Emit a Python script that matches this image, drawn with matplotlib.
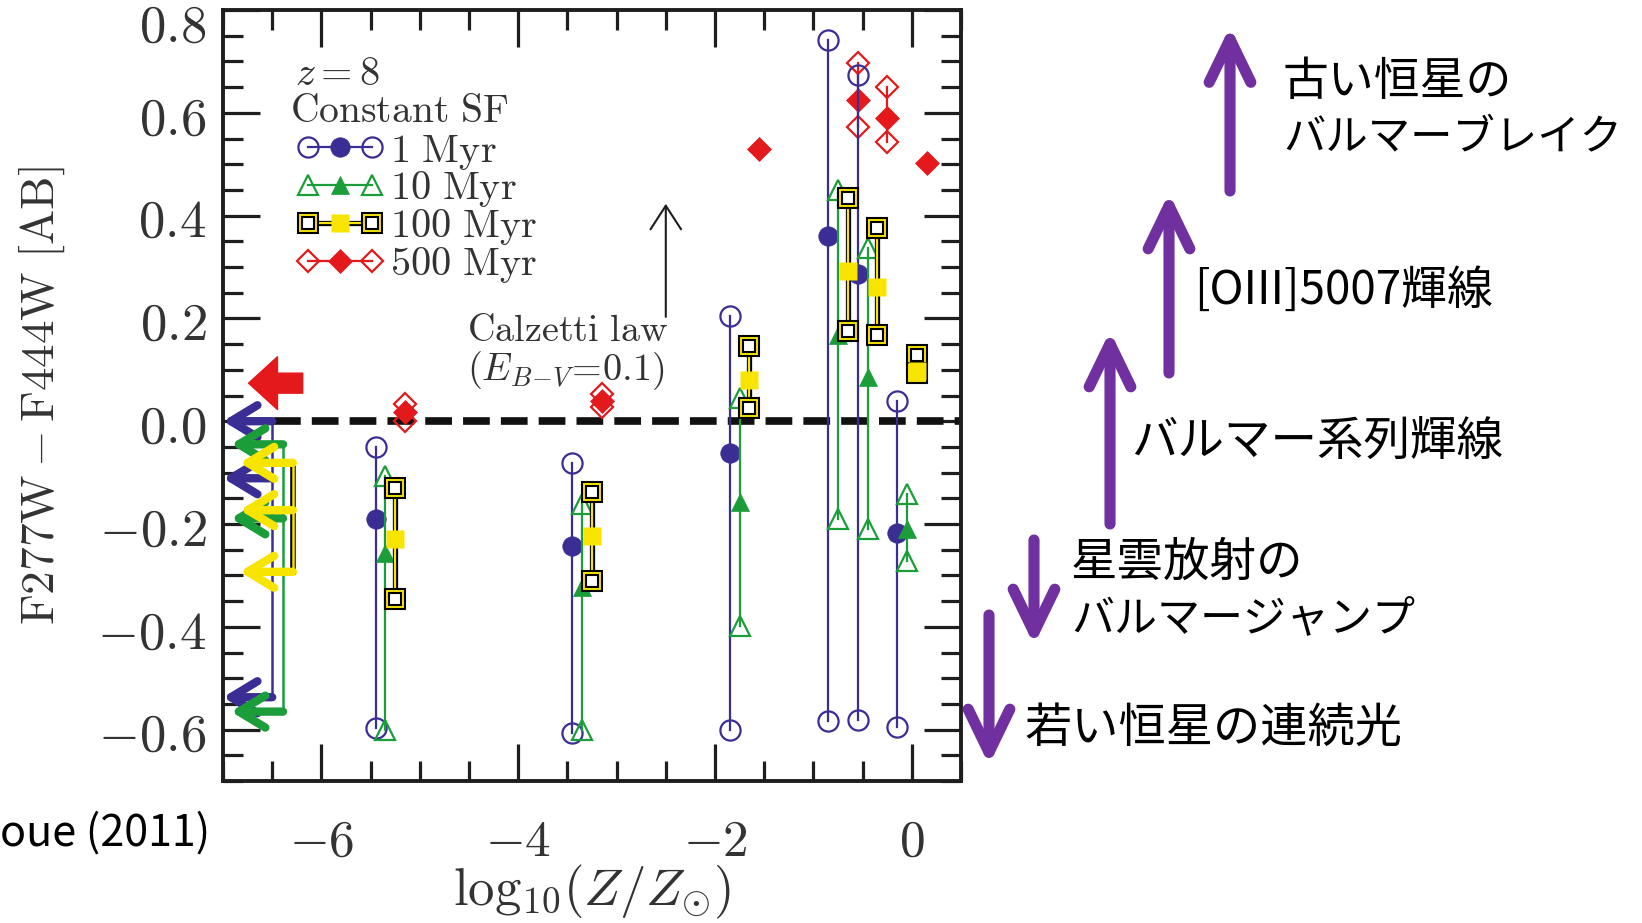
import numpy as np
import matplotlib
matplotlib.use("Agg")
import matplotlib.pyplot as plt
import matplotlib.patheffects as pe
from matplotlib.lines import Line2D
from matplotlib.legend_handler import HandlerBase
from matplotlib.ticker import FixedLocator, MultipleLocator, FuncFormatter
from matplotlib.transforms import ScaledTranslation

plt.rcParams['font.family'] = ['Noto Sans CJK JP', 'DejaVu Sans']
plt.rcParams['mathtext.fontset'] = 'cm'

# log10(Z/Zsun) of the model grid (Z = 0 is shown as arrows on the left edge)
logZ = [-5.3, -3.3, -1.7, -0.7, -0.4, 0.0]
ageLabels = ['1 Myr', '10 Myr', '100 Myr', '500 Myr']

# F277W-F444W colour: open point / filled point / open point per age
myr1Top = [-0.051, -0.081, 0.205, 0.741, 0.673, 0.040]
myr1Mid = [-0.191, -0.243, -0.062, 0.360, 0.287, -0.218]
myr1Bot = [-0.597, -0.607, -0.600, -0.584, -0.581, -0.594]

myr10Top = [-0.107, -0.162, 0.045, 0.449, 0.337, -0.142]
myr10Mid = [-0.257, -0.322, -0.157, 0.168, 0.086, -0.209]
myr10Bot = [-0.600, -0.600, -0.399, -0.190, -0.209, -0.272]

myr100Top = [-0.129, -0.137, 0.147, 0.434, 0.375, 0.129]
myr100Mid = [-0.229, -0.223, 0.080, 0.292, 0.262, 0.098]
myr100Bot = [-0.346, -0.311, 0.025, 0.175, 0.168, 0.094]

myr500Top = [0.033, 0.053, np.nan, 0.696, 0.651, np.nan]
myr500Mid = [0.017, 0.040, 0.529, 0.624, 0.589, 0.502]
myr500Bot = [0.000, 0.027, np.nan, 0.573, 0.544, np.nan]

# Z = 0 models (1, 10, 100 Myr) and the single 500 Myr value
zeroTop = [0.000, -0.045, -0.081]
zeroMid = [-0.111, -0.189, -0.173]
zeroBot = [-0.537, -0.565, -0.293]
zero500 = 0.074

yTicks = [-0.6, -0.4, -0.2, 0.0, 0.2, 0.4, 0.6, 0.8]
xTicks = [-6, -4, -2, 0]

blue = '#3a2d94'
green = '#1b9d3a'
yellow = '#f7e400'
red = '#e4191c'
purple = '#7030a0'
grey = '#333333'
ink = '#1e1e1e'

styles = [
    dict(color=blue, marker='o', ms=14.5, fillMs=14, dx=-0.15, z=4),
    dict(color=green, marker='^', ms=15, fillMs=13.5, dx=-0.05, z=5),
    dict(color=yellow, marker='s', ms=15, fillMs=12.5, dx=0.05, z=6, boxed=True),
    dict(color=red, marker='D', ms=11.5, fillMs=12.5, dx=0.15, z=3),
]


def makeArtists(xs, ys, st):
    z = st['z']
    ends = ([xs[0], xs[2]], [ys[0], ys[2]])
    line = Line2D(*ends, color=st['color'], lw=1.6, zorder=z)
    arts = [line]
    if st.get('boxed'):
        line.set_path_effects([pe.Stroke(linewidth=3.8, foreground='k'), pe.Normal()])
        arts.append(Line2D(*ends, ls='none', marker='s', ms=st['ms'], mfc=yellow,
                           mec='k', mew=1.5, zorder=z))
        arts.append(Line2D(*ends, ls='none', marker='s', ms=8, mfc='white',
                           mec='k', mew=1.5, zorder=z))
        arts.append(Line2D([xs[1]], [ys[1]], ls='none', marker='s', ms=st['fillMs'],
                           mfc=yellow, mec='none', zorder=z))
    else:
        arts.append(Line2D(*ends, ls='none', marker=st['marker'], ms=st['ms'], mfc='none',
                           mec=st['color'], mew=1.6, zorder=z))
        arts.append(Line2D([xs[1]], [ys[1]], ls='none', marker=st['marker'], ms=st['fillMs'],
                           mfc=st['color'], mec=st['color'], mew=0.5, zorder=z))
    return arts


class ModelHandler(HandlerBase):
    def __init__(self, st):
        super().__init__()
        self.st = st

    def create_artists(self, legend, orig_handle, xdescent, ydescent, width, height, fontsize, trans):
        y = (height - ydescent) / 2
        xs = [-xdescent, -xdescent + width / 2, -xdescent + width]
        arts = makeArtists(xs, [y, y, y], self.st)
        for a in arts:
            a.set_transform(trans)
        return arts


W, H = 1642, 923
fig = plt.figure(figsize=(W / 100, H / 100), dpi=100)
ax = fig.add_axes([223 / W, 1 - 781 / H, (961 - 223) / W, (781 - 10) / H])
ax.set_xlim(-7.0, 0.5)
ax.set_ylim(-0.7, 0.8)

# zero-colour reference line
lineStart = -6.48
ax.axhline(0, xmin=(lineStart + 7.0) / 7.5, xmax=1, color='#111111', lw=5.5,
           dashes=(3.5, 1.45), zorder=2)

series = [(myr1Top, myr1Mid, myr1Bot), (myr10Top, myr10Mid, myr10Bot),
          (myr100Top, myr100Mid, myr100Bot), (myr500Top, myr500Mid, myr500Bot)]
for (top, mid, bot), st in zip(series, styles):
    for x0, a, b, c in zip(logZ, top, mid, bot):
        x = x0 + st['dx']
        for art in makeArtists([x, x, x], [a, b, c], st):
            ax.add_line(art)

# Z = 0: arrows pointing off the left edge, joined by a bracket line
zeroStyle = [(blue, -6.50, -7.00), (green, -6.39, -6.92), (yellow, -6.29, -6.83)]
for i, (c, xb, xt) in enumerate(zeroStyle):
    br, = ax.plot([xb, xb], [zeroTop[i], zeroBot[i]], color=c, lw=1.8, zorder=7 + i)
    if c == yellow:
        br.set_path_effects([pe.Stroke(linewidth=4.0, foreground='k'), pe.Normal()])
    for y in (zeroTop[i], zeroMid[i], zeroBot[i]):
        ax.annotate('', xy=(xt, y), xytext=(xb, y),
                    arrowprops=dict(arrowstyle='->,head_length=1.9,head_width=1.15', lw=6,
                                    color=c, shrinkA=0, shrinkB=0, mutation_scale=10),
                    zorder=7 + i)
ax.annotate('', xy=(-6.74, zero500), xytext=(-6.19, zero500),
            arrowprops=dict(arrowstyle='simple,head_length=0.52,head_width=0.95,tail_width=0.36',
                            mutation_scale=40, fc=red, ec=red, shrinkA=0, shrinkB=0), zorder=10)

# dust vector
ax.annotate('', xy=(-2.5, 0.423), xytext=(-2.5, 0.203),
            arrowprops=dict(arrowstyle='->,head_length=1.7,head_width=1.1', lw=1.5,
                            color=ink, shrinkA=0, shrinkB=0))
ax.text(-4.52, 0.177, r'$\mathrm{Calzetti\ law}$', fontsize=27.5, color=grey, va='center')
ax.text(-4.52, 0.099, r'$(E_{B\!-\!V}\!=\!0.1)$', fontsize=27.5, color=grey, va='center')

# legend
ax.text(0.097, 0.918, r'$z=8$', transform=ax.transAxes, fontsize=29, color=grey, va='center')
ax.text(0.091, 0.869, r'$\mathrm{Constant\ SF}$', transform=ax.transAxes, fontsize=28.5,
        color=grey, va='center')
proxies = [Line2D([], []) for _ in styles]
labels = [r'$\mathrm{%s}$' % lab.replace(' ', r'\ ') for lab in ageLabels]
ax.legend(proxies, labels, handler_map={p: ModelHandler(st) for p, st in zip(proxies, styles)},
          loc='upper left', bbox_to_anchor=(0.115, 0.845), frameon=False, fontsize=29,
          handlelength=1.6, handletextpad=0.45, labelspacing=-0.1, borderpad=0,
          borderaxespad=0, labelcolor=grey)

# axes styling
ax.xaxis.set_major_locator(FixedLocator(xTicks))
ax.xaxis.set_minor_locator(MultipleLocator(0.5))
ax.yaxis.set_major_locator(FixedLocator(yTicks))
ax.yaxis.set_minor_locator(MultipleLocator(0.05))
ax.xaxis.set_major_formatter(FuncFormatter(lambda v, p: r'$%d$' % round(v)))
ax.yaxis.set_major_formatter(FuncFormatter(lambda v, p: r'$%.1f$' % v))
ax.tick_params(which='both', direction='in', top=True, right=True, width=2.3, color=ink)
ax.tick_params(which='major', length=26.5)
ax.tick_params(which='minor', length=14.5)
ax.tick_params(axis='y', labelsize=38, pad=12, labelcolor=grey)
ax.tick_params(axis='x', labelsize=37, pad=24, labelcolor=grey)
# the top label sits a little below its tick, as in the original figure
topLabel = ax.yaxis.get_major_ticks()[-1].label1
topLabel.set_transform(topLabel.get_transform() + ScaledTranslation(0, -0.10, fig.dpi_scale_trans))
for s in ax.spines.values():
    s.set_linewidth(2.8)
    s.set_color(ink)

ax.set_ylabel(r'$\mathrm{F277W-F444W\ [AB]}$', fontsize=34, color=grey, va='center')
ax.yaxis.set_label_coords(-0.245, 0.5)
ax.set_xlabel(r'$\mathrm{log}_{10}(Z/Z_{\odot})$', fontsize=38, color=grey, va='center')
ax.xaxis.set_label_coords(0.5, -0.144)

# what each feature does to the colour
purpleArrows = [(1230, 191, 26.5), (1169, 373, 193), (1110, 524, 331),
                (1034, 540, 645), (989, 615, 765)]
for x, y0, y1 in purpleArrows:
    ax.annotate('', xy=(x, H - y1), xycoords='figure pixels', xytext=(x, H - y0),
                textcoords='figure pixels', annotation_clip=False,
                arrowprops=dict(arrowstyle='->,head_length=1.55,head_width=0.75', lw=8,
                                color=purple, shrinkA=0, shrinkB=0, mutation_scale=20))

notes = [('古い恒星の', 1283, 82, 33), ('バルマーブレイク', 1283, 137, 30.5),
         ('[OIII]5007輝線', 1194, 291, 33), ('バルマー系列輝線', 1131, 442, 33.5),
         ('星雲放射の', 1071, 563, 33.5), ('バルマージャンプ', 1071, 620, 31),
         ('若い恒星の連続光', 1025, 729, 34)]
for s, x, y, size in notes:
    fig.text(x / W, 1 - y / H, s, fontsize=size, ha='left', va='center')

fig.text(0, 1 - 834 / H, 'oue (2011)', fontsize=31, ha='left', va='center')

fig.savefig('out.png', dpi=100)
